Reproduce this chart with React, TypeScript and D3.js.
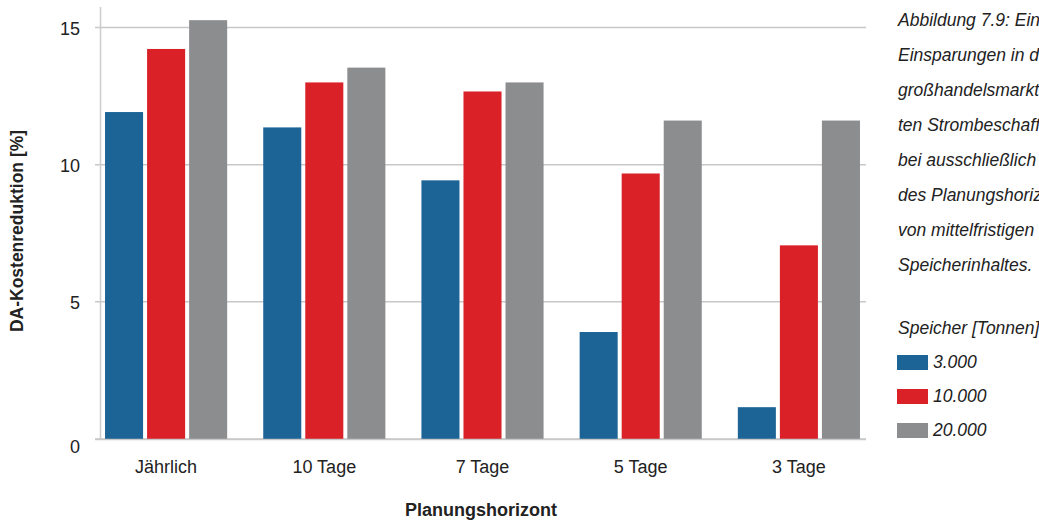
import React from "react";
import * as d3 from "d3";

const categories = ["Jährlich", "10 Tage", "7 Tage", "5 Tage", "3 Tage"];
const seriesNames = ["3.000", "10.000", "20.000"];
const values3000 = [11.92, 11.36, 9.43, 3.9, 1.16];
const values10000 = [14.22, 13.0, 12.67, 9.68, 7.06];
const values20000 = [15.27, 13.54, 13.0, 11.61, 11.61];
const seriesValues = [values3000, values10000, values20000];
const colors = ["#1c6396", "#da2128", "#8c8d8f"];
const yTicks = [0, 5, 10, 15];
const captionLines = [
  "Abbildung 7.9: Ein",
  "Einsparungen in d",
  "großhandelsmarkt",
  "ten Strombeschaff",
  "bei ausschließlich",
  "des Planungshoriz",
  "von mittelfristigen",
  "Speicherinhaltes.",
];
const legendTitle = "Speicher [Tonnen]";
const xTitle = "Planungshorizont";
const yTitle = "DA-Kostenreduktion [%]";

const W = 1039;
const H = 524;
const FONT = "'Liberation Sans', Arial, Helvetica, sans-serif";

export default function App() {
  const y = d3.scaleLinear().domain([0, 15.75]).range([439, 7]);
  const x0 = d3
    .scaleBand<string>()
    .domain(categories)
    .range([87, 878])
    .paddingInner(0.228)
    .paddingOuter(0.114);
  const x1 = d3
    .scaleBand<string>()
    .domain(seriesNames)
    .range([0, x0.bandwidth()])
    .paddingInner(0.0952);

  const gridX0 = 95;
  const gridX1 = 866;
  const axisX = 100.5;

  return (
    <div style={{ position: "absolute", left: 0, top: 0 }}>
      <svg width={W} height={H} style={{ display: "block", fontFamily: FONT }}>
        <rect x={0} y={0} width={W} height={H} fill="#ffffff" />
        {yTicks.map((t) => (
          <line
            key={"g" + t}
            x1={gridX0}
            x2={gridX1}
            y1={y(t)}
            y2={y(t)}
            stroke="#c8c8c8"
            strokeWidth={1.5}
          />
        ))}
        <line x1={axisX} x2={axisX} y1={y(15.75)} y2={y(0)} stroke="#cccccc" strokeWidth={1.5} />
        {seriesNames.map((s, si) => (
          <g key={s}>
            {categories.map((c, ci) => (
              <rect
                key={c}
                x={(x0(c) ?? 0) + (x1(s) ?? 0)}
                y={y(seriesValues[si][ci])}
                width={x1.bandwidth()}
                height={y(0) - y(seriesValues[si][ci])}
                fill={colors[si]}
              />
            ))}
          </g>
        ))}
        <line x1={gridX0} x2={gridX1} y1={y(0) + 0.5} y2={y(0) + 0.5} stroke="#c8c8c8" strokeWidth={1.5} />
        {yTicks.map((t) => (
          <text
            key={"t" + t}
            x={80}
            y={y(t) + (t === 0 ? 8 : 1)}
            dy="0.35em"
            textAnchor="end"
            fontSize={18}
            fill="#222"
          >
            {t}
          </text>
        ))}
        {categories.map((c) => (
          <text
            key={"x" + c}
            x={(x0(c) ?? 0) + x0.bandwidth() / 2}
            y={473}
            textAnchor="middle"
            fontSize={18}
            fill="#222"
          >
            {c}
          </text>
        ))}
        <text x={481} y={516} textAnchor="middle" fontSize={18} fontWeight="bold" fill="#222">
          {xTitle}
        </text>
        <text
          transform={`translate(23,231) rotate(-90)`}
          textAnchor="middle"
          fontSize={17.5}
          fontWeight="bold"
          fill="#222"
        >
          {yTitle}
        </text>
        {captionLines.map((l, i) => (
          <text key={"c" + i} x={898} y={26 + i * 35} fontSize={17.5} fontStyle="italic" fill="#222">
            {l}
          </text>
        ))}
        <text x={898} y={334} fontSize={17.5} fontStyle="italic" fill="#222">
          {legendTitle}
        </text>
        {seriesNames.map((s, i) => (
          <g key={"l" + s} transform={`translate(897,${355 + i * 34})`}>
            <rect x={0} y={0} width={31} height={15} fill={colors[i]} />
            <text x={36} y={13} fontSize={17.5} fontStyle="italic" fill="#222">
              {s}
            </text>
          </g>
        ))}
      </svg>
    </div>
  );
}
